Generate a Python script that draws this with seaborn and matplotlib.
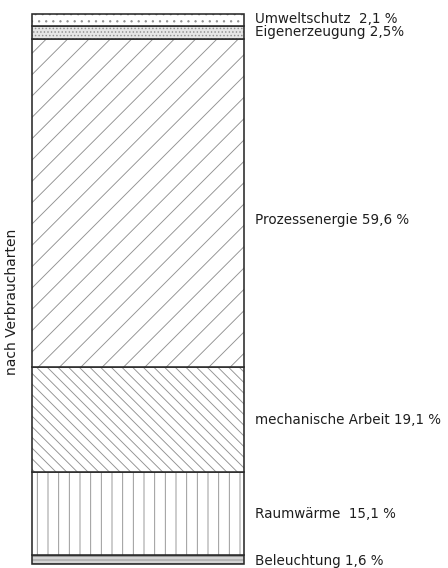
import matplotlib
matplotlib.use("Agg")
import matplotlib.pyplot as plt
import seaborn as sns
import pandas as pd

# segments from bottom to top
categories = ["Beleuchtung", "Raumwärme", "mechanische Arbeit",
              "Prozessenergie", "Eigenerzeugung", "Umweltschutz"]
shares = [1.6, 15.1, 19.1, 59.6, 2.5, 2.1]
labels = ["Beleuchtung 1,6 %", "Raumwärme  15,1 %", "mechanische Arbeit 19,1 %",
          "Prozessenergie 59,6 %", "Eigenerzeugung 2,5%", "Umweltschutz  2,1 %"]
axis_label = "nach Verbraucharten"

# styling per segment
hatches = ["------", "||", "\\\\\\\\", "//", "......", "..."]
faces = ["#d4d4d4", "white", "white", "white", "#e6e6e6", "white"]
label_frac = [0.3, 0.5, 0.5, 0.45, 0.5, 0.55]

sns.set_style("white")
plt.rcParams["font.family"] = ["DejaVu Sans"]
plt.rcParams["hatch.linewidth"] = 0.5

fig = plt.figure(figsize=(3.5, 4.4375), dpi=128)
ax = fig.add_axes([32 / 448, 4 / 568, 212 / 448, 550 / 568])

df = pd.DataFrame({"cat": categories, "share": shares})
bottom = 0.0
for i, row in df.iterrows():
    # hatched fill, hatch takes the (grey) edge colour
    sns.barplot(x=[0], y=[row["share"]], bottom=bottom, width=1.0,
                color=faces[i], edgecolor="#909090", linewidth=0,
                hatch=hatches[i], ax=ax)
    # dark outline on top
    sns.barplot(x=[0], y=[row["share"]], bottom=bottom, width=1.0,
                fill=False, edgecolor="#2a2a2a", linewidth=0.9, ax=ax)
    ax.text(0.55, bottom + row["share"] * label_frac[i], labels[i],
            va="center", ha="left", fontsize=7.6, color="#1e1e1e")
    bottom += row["share"]

for p in ax.patches:
    p.set_clip_on(False)

ax.set_xlim(-0.5, 0.5)
ax.set_ylim(0, 100)
ax.axis("off")

fig.text(12 / 448, 1 - 302 / 568, axis_label, rotation=90, ha="center",
         va="center", fontsize=7.8, color="#1e1e1e")

fig.savefig("out.png", dpi=128)
